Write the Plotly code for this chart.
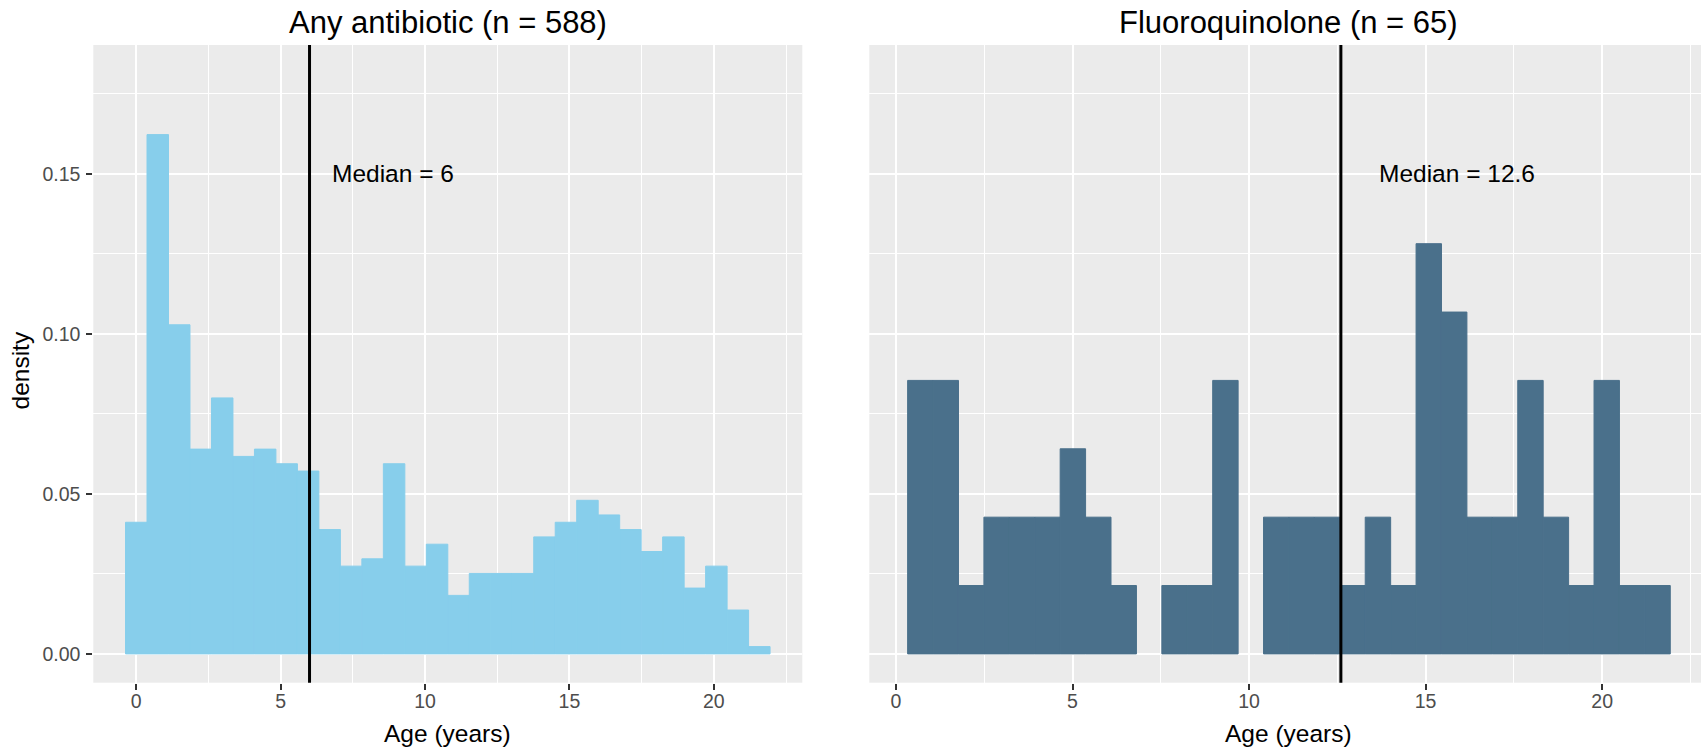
import plotly.graph_objects as go

# ---- data ----
left_counts = [18, 71, 45, 28, 35, 27, 28, 26, 25, 17, 12, 13, 26, 12, 15,
               8, 11, 11, 11, 16, 18, 21, 19, 17, 14, 16, 9, 12, 6, 1]
right_counts = [4, 4, 1, 2, 2, 2, 3, 2, 1, 0, 1, 1, 4, 0, 2,
                2, 2, 1, 2, 1, 6, 5, 2, 2, 4, 2, 1, 4, 1, 1]
left_n = 588
right_n = 65
left_bin_start = -0.372   # years
left_bin_width = 0.744
right_bin_start = 0.33
right_bin_width = 0.72
left_median = 6
right_median = 12.6
left_title = "Any antibiotic (n = 588)"
right_title = "Fluoroquinolone (n = 65)"
x_ticks = [0, 5, 10, 15, 20]
y_ticks = [0.00, 0.05, 0.10, 0.15]


def hist(counts, n, start, width):
    xs = [start + width * (i + 0.5) for i in range(len(counts))]
    ys = [c / (n * width) for c in counts]
    return xs, ys


lx, ly = hist(left_counts, left_n, left_bin_start, left_bin_width)
rx, ry = hist(right_counts, right_n, right_bin_start, right_bin_width)

W, H = 1701, 753


def px(xp):
    return xp / W


def py(yp):
    return 1 - yp / H


FONT = "Arial, Liberation Sans, sans-serif"
PANEL_BG = "#EBEBEB"
LEFT_COL = "#87CEEB"
RIGHT_COL = "#4A708B"

fig = go.Figure()
fig.add_trace(go.Bar(x=lx, y=ly, width=left_bin_width,
                     marker=dict(color=LEFT_COL,
                                 line=dict(width=[1 if c else 0 for c in left_counts], color=LEFT_COL)),
                     xaxis="x", yaxis="y", showlegend=False))
fig.add_trace(go.Bar(x=rx, y=ry, width=right_bin_width,
                     marker=dict(color=RIGHT_COL,
                                 line=dict(width=[1 if c else 0 for c in right_counts], color=RIGHT_COL)),
                     xaxis="x2", yaxis="y2", showlegend=False))

# panel geometry (window pixels)
lp = (93.3, 802.3)
rp = (869.3, 1701.0)
top, bottom = 45.0, 682.7
ydom = [py(bottom), py(top)]

yrange = [-0.009, 0.1903]
common_axis = dict(
    showgrid=True, gridcolor="white", gridwidth=2,
    zeroline=False, showline=False,
    ticklen=6, tickwidth=1.5, tickcolor="#333333",
    tickfont=dict(family=FONT, size=19.5, color="#4D4D4D"),
)
minor_x = dict(dtick=2.5, tick0=0, showgrid=True, gridcolor="white", gridwidth=1, ticks="")
minor_y = dict(dtick=0.025, tick0=0, showgrid=True, gridcolor="white", gridwidth=1, ticks="")

fig.update_layout(
    width=W, height=H,
    margin=dict(l=0, r=0, t=0, b=0),
    paper_bgcolor="white", plot_bgcolor=PANEL_BG,
    barmode="overlay",
    xaxis=dict(domain=[px(lp[0]), px(lp[1])], range=[-1.488, 23.064],
               tickvals=x_ticks, anchor="y", ticks="outside", ticklabelstandoff=-5,
               minor=minor_x, **common_axis),
    yaxis=dict(domain=ydom, range=yrange, tickvals=y_ticks, tickformat=".2f", anchor="x",
               ticks="outside", ticklabelstandoff=2, minor=minor_y, **common_axis),
    xaxis2=dict(domain=[px(rp[0]), px(rp[1])], range=[-0.756, 22.8],
                tickvals=x_ticks, anchor="y2", ticks="outside", ticklabelstandoff=-5,
                minor=minor_x, **common_axis),
    yaxis2=dict(domain=ydom, range=yrange, tickvals=y_ticks, anchor="x2",
                showticklabels=False, ticks="", minor=minor_y, **common_axis),
)

# median lines
fig.add_shape(type="line", xref="x", yref="y domain", x0=left_median, x1=left_median, y0=0, y1=1,
              line=dict(color="black", width=3), layer="above")
fig.add_shape(type="line", xref="x2", yref="y2 domain", x0=right_median, x1=right_median, y0=0, y1=1,
              line=dict(color="black", width=3), layer="above")

txt = dict(family=FONT, size=24.5, color="black")
annos = [
    dict(x=8.9, y=0.15, xref="x", yref="y", text=f"Median = {left_median}",
         font=txt, showarrow=False, xanchor="center", yanchor="middle"),
    dict(x=15.9, y=0.15, xref="x2", yref="y2", text=f"Median = {right_median}",
         font=txt, showarrow=False, xanchor="center", yanchor="middle"),
    dict(x=px((lp[0] + lp[1]) / 2), y=py(22.5), xref="paper", yref="paper", text=left_title,
         font=dict(family=FONT, size=31, color="black"), showarrow=False,
         xanchor="center", yanchor="middle"),
    dict(x=px(1288.5), y=py(22.5), xref="paper", yref="paper", text=right_title,
         font=dict(family=FONT, size=31, color="black"), showarrow=False,
         xanchor="center", yanchor="middle"),
    dict(x=px((lp[0] + lp[1]) / 2), y=py(733), xref="paper", yref="paper", text="Age (years)",
         font=txt, showarrow=False, xanchor="center", yanchor="middle"),
    dict(x=px(1288.5), y=py(733), xref="paper", yref="paper", text="Age (years)",
         font=txt, showarrow=False, xanchor="center", yanchor="middle"),
    dict(x=px(19.5), y=py(371), xref="paper", yref="paper", text="density", textangle=-90,
         font=txt, showarrow=False, xanchor="center", yanchor="middle"),
]
fig.update_layout(annotations=annos)

# remove the browser's default 8px body margin so the figure fills the window
fig.write_html("out.html", config={"displayModeBar": False},
               post_script="document.body.style.margin='0';")
